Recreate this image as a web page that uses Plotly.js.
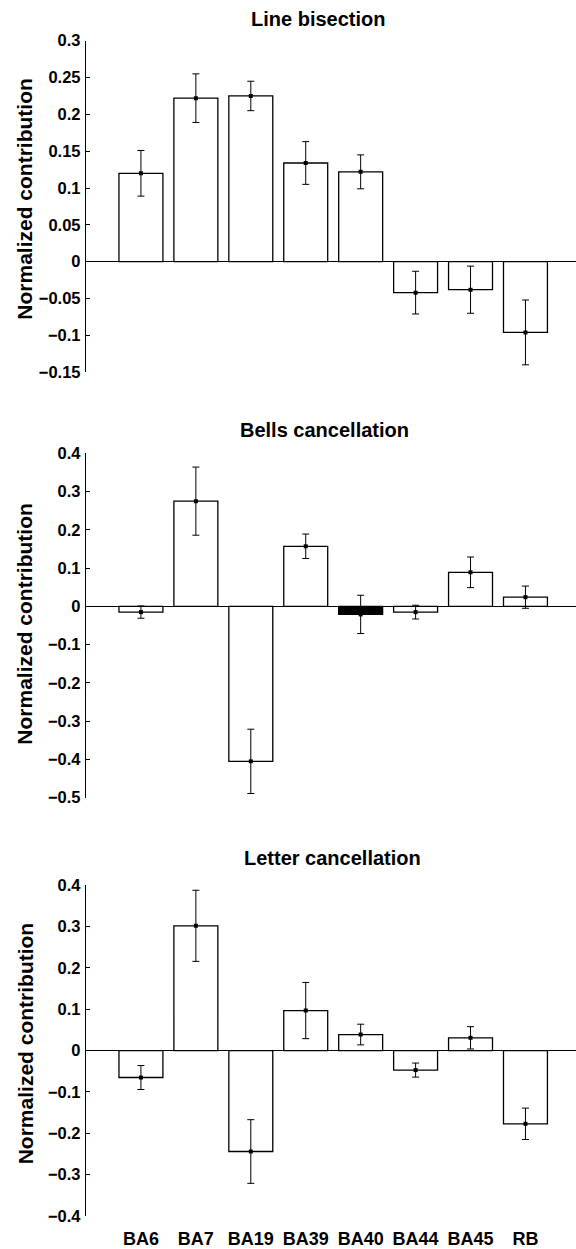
<!DOCTYPE html>
<html>
<head>
<meta charset="utf-8">
<script src="https://cdn.plot.ly/plotly-3.0.1.min.js"></script>
<style>html,body{margin:0;padding:0;background:#fff;}#chart{width:576px;height:1249px;}</style>
</head>
<body>
<div id="chart"></div>
<script>
const categories = ['BA6', 'BA7', 'BA19', 'BA39', 'BA40', 'BA44', 'BA45', 'RB'];
const panelTitles = ['Line bisection', 'Bells cancellation', 'Letter cancellation'];
const lineBisection = [0.120, 0.222, 0.225, 0.134, 0.122, -0.042, -0.038, -0.096];
const lineBisectionErr = [0.031, 0.033, 0.020, 0.029, 0.023, 0.029, 0.032, 0.044];
const bellsCancellation = [-0.015, 0.275, -0.405, 0.157, -0.021, -0.015, 0.089, 0.024];
const bellsCancellationErr = [0.016, 0.089, 0.084, 0.032, 0.050, 0.018, 0.040, 0.029];
const bellsHighlighted = ['BA40'];
const letterCancellation = [-0.065, 0.302, -0.244, 0.097, 0.039, -0.047, 0.031, -0.177];
const letterCancellationErr = [0.029, 0.086, 0.077, 0.068, 0.025, 0.017, 0.027, 0.038];
const yRanges = [[-0.15, 0.3], [-0.5, 0.4], [-0.4, 0.4]];
const yDticks = [0.05, 0.1, 0.1];

const W = 576, H = 1249;
const FONT = 'Liberation Sans, Arial, Helvetica, sans-serif';
const series = [
  {vals: lineBisection, err: lineBisectionErr, hi: []},
  {vals: bellsCancellation, err: bellsCancellationErr, hi: bellsHighlighted},
  {vals: letterCancellation, err: letterCancellationErr, hi: []}
];
// pixel geometry of panels (top, bottom of the y-axis)
const panelPx = [[40.7, 372.2], [453.3, 797.7], [885.3, 1216]];
const titleY = [18.8, 430, 857.5];
const titleX = [318, 324, 332];
const yTitleY = [198.7, 623.7, 1043.3];
const axisLeft = 86;

const traces = [];
const layout = {
  width: W, height: H,
  margin: {l: 0, r: 0, t: 0, b: 0},
  paper_bgcolor: '#fff', plot_bgcolor: '#fff',
  showlegend: false,
  font: {family: FONT, color: '#000'},
  annotations: []
};

series.forEach((s, k) => {
  const n = k === 0 ? '' : String(k + 1);
  const xa = 'x' + n, ya = 'y' + n;
  traces.push({
    type: 'bar', x: categories, y: s.vals, xaxis: xa, yaxis: ya, width: 0.8,
    marker: {color: categories.map(c => s.hi.includes(c) ? '#000' : '#fff'),
             line: {color: '#000', width: 1.3}},
    hoverinfo: 'x+y'
  });
  traces.push({
    type: 'scatter', mode: 'markers', x: categories, y: s.vals, xaxis: xa, yaxis: ya,
    marker: {symbol: 'square', size: 4, color: '#000'},
    error_y: {type: 'data', array: s.err, visible: true, color: '#000', thickness: 1, width: 3.5},
    hoverinfo: 'skip'
  });
  const [top, bot] = panelPx[k];
  layout['xaxis' + n] = {
    domain: [axisLeft / W, 1], anchor: ya, type: 'category',
    range: [-1, 7.92], showline: false, showgrid: false, zeroline: false,
    ticks: '', showticklabels: k === 2,
    tickfont: {family: FONT, size: 18, weight: 'bold', color: '#000'},
    ticklabelstandoff: 10, fixedrange: true
  };
  layout['yaxis' + n] = {
    domain: [1 - bot / H, 1 - top / H], anchor: xa,
    range: yRanges[k], dtick: yDticks[k], tick0: 0,
    showline: true, linecolor: '#000', linewidth: 1.2,
    ticks: 'inside', ticklen: 4, tickcolor: '#000', tickwidth: 1,
    showgrid: false, zeroline: true, zerolinecolor: '#000', zerolinewidth: 1.5,
    tickfont: {family: FONT, size: 16.5, weight: 'bold', color: '#000'},
    ticklabelstandoff: 1,
    fixedrange: true
  };
  layout.annotations.push({
    text: panelTitles[k], xref: 'paper', yref: 'paper',
    x: titleX[k] / W, y: 1 - titleY[k] / H, xanchor: 'center', yanchor: 'middle',
    showarrow: false, font: {family: FONT, size: 20, weight: 'bold', color: '#000'}
  });
  layout.annotations.push({
    text: 'Normalized contribution', xref: 'paper', yref: 'paper', textangle: -90,
    x: 25 / W, y: 1 - yTitleY[k] / H, xanchor: 'center', yanchor: 'middle',
    showarrow: false, font: {family: FONT, size: 21, weight: 'bold', color: '#000'}
  });
});

Plotly.newPlot('chart', traces, layout, {displayModeBar: false, staticPlot: true});
</script>
</body>
</html>
